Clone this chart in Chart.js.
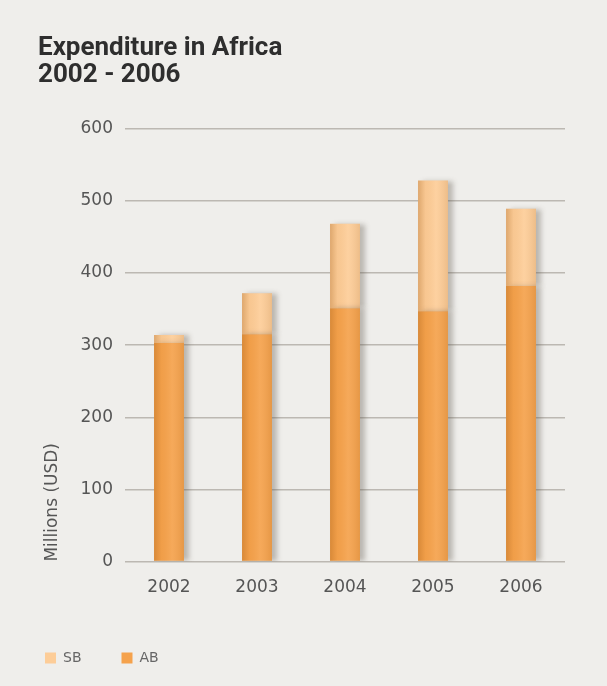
<!DOCTYPE html>
<html>
<head>
<meta charset="utf-8">
<script src="https://cdn.jsdelivr.net/npm/chart.js@4/dist/chart.umd.min.js"></script>
<style>
  html, body { margin: 0; padding: 0; background: #efeeeb; }
  #wrap { width: 607px; height: 686px; }
</style>
</head>
<body>
<div id="wrap"><canvas id="grafico"></canvas></div>
<script>
const anos = ['2002', '2003', '2004', '2005', '2006'];
const valoresAB = [303, 315, 351, 347, 382];
const valoresSB = [11, 57, 117, 181, 107];
const ticksY = [0, 100, 200, 300, 400, 500, 600];

// fundo de papel
const fundo = {
    id: 'fundo',
    beforeDraw(chart) {
        const ctx = chart.ctx;
        ctx.save();
        ctx.fillStyle = '#efeeeb';
        ctx.fillRect(0, 0, chart.width, chart.height);
        ctx.restore();
    }
};

// legenda encostada na esquerda, como no original
const legendaEsquerda = {
    id: 'legendaEsquerda',
    afterLayout(chart) {
        if (chart.legend) {
            chart.legend.left -= 33;
            chart.legend.right -= 33;
        }
    }
};

// sombra e brilho nas barras
const sombraBarras = {
    id: 'sombraBarras',
    beforeDatasetsDraw(chart) {
        const ctx = chart.ctx;
        ctx.save();
        ctx.shadowColor = 'rgba(90, 80, 70, 0.35)';
        ctx.shadowBlur = 5;
        ctx.shadowOffsetX = 5;
        ctx.shadowOffsetY = 0;
    },
    afterDatasetsDraw(chart) {
        const ctx = chart.ctx;
        ctx.restore();
        chart.data.datasets.forEach((ds, i) => {
            chart.getDatasetMeta(i).data.forEach(bar => {
                const esq = bar.x - bar.width / 2;
                const g = ctx.createLinearGradient(esq, 0, esq + bar.width, 0);
                g.addColorStop(0, 'rgba(150, 80, 10, 0.30)');
                g.addColorStop(0.25, 'rgba(150, 80, 10, 0.05)');
                g.addColorStop(0.6, 'rgba(255, 255, 255, 0.08)');
                g.addColorStop(1, 'rgba(120, 70, 20, 0.12)');
                ctx.save();
                ctx.fillStyle = g;
                ctx.fillRect(esq, bar.y, bar.width, bar.base - bar.y);
                ctx.restore();
            });
        });
    }
};

const fonteEixo = { family: 'DejaVu Sans', size: 17 };

new Chart(document.getElementById('grafico').getContext('2d'), {
    type: 'bar',
    data: {
        labels: anos,
        datasets: [
            { label: 'AB', data: valoresAB, backgroundColor: '#f5a24c', borderWidth: 0 },
            { label: 'SB', data: valoresSB, backgroundColor: '#fdcd98', borderWidth: 0 }
        ]
    },
    options: {
        responsive: true,
        maintainAspectRatio: false,
        animation: false,
        layout: { padding: { left: 38, right: 42, top: 35, bottom: 11 } },
        datasets: { bar: { barPercentage: 0.34, categoryPercentage: 1 } },
        plugins: {
            title: {
                display: true,
                text: ['Expenditure in Africa', '2002 - 2006'],
                align: 'start',
                color: '#2e2e2e',
                font: { family: 'Roboto', size: 26, weight: 'bold', lineHeight: 1.05 },
                padding: { top: 0, bottom: 39 }
            },
            legend: {
                position: 'bottom',
                align: 'start',
                reverse: true,
                labels: {
                    boxWidth: 11,
                    boxHeight: 11,
                    padding: 40,
                    color: '#666',
                    font: { family: 'DejaVu Sans', size: 14 }
                }
            },
            tooltip: { enabled: false }
        },
        scales: {
            x: {
                stacked: true,
                grid: { display: false },
                border: { display: false },
                ticks: { color: '#555', font: fonteEixo, padding: 8 },
                afterFit(axis) { axis.height += 5; }
            },
            y: {
                stacked: true,
                min: 0,
                max: 600,
                afterBuildTicks(axis) { axis.ticks = ticksY.map(v => ({ value: v })); },
                afterFit(axis) { axis.width = 87; },
                grid: { color: '#bcb8b2', lineWidth: 1.5, drawTicks: false },
                border: { display: false },
                ticks: { color: '#555', font: fonteEixo, padding: 12 },
                title: {
                    display: true,
                    text: 'Millions (USD)',
                    align: 'start',
                    color: '#555',
                    font: fonteEixo,
                    padding: { top: 4, bottom: 10 }
                }
            }
        }
    },
    plugins: [fundo, legendaEsquerda, sombraBarras]
});
</script>
</body>
</html>
